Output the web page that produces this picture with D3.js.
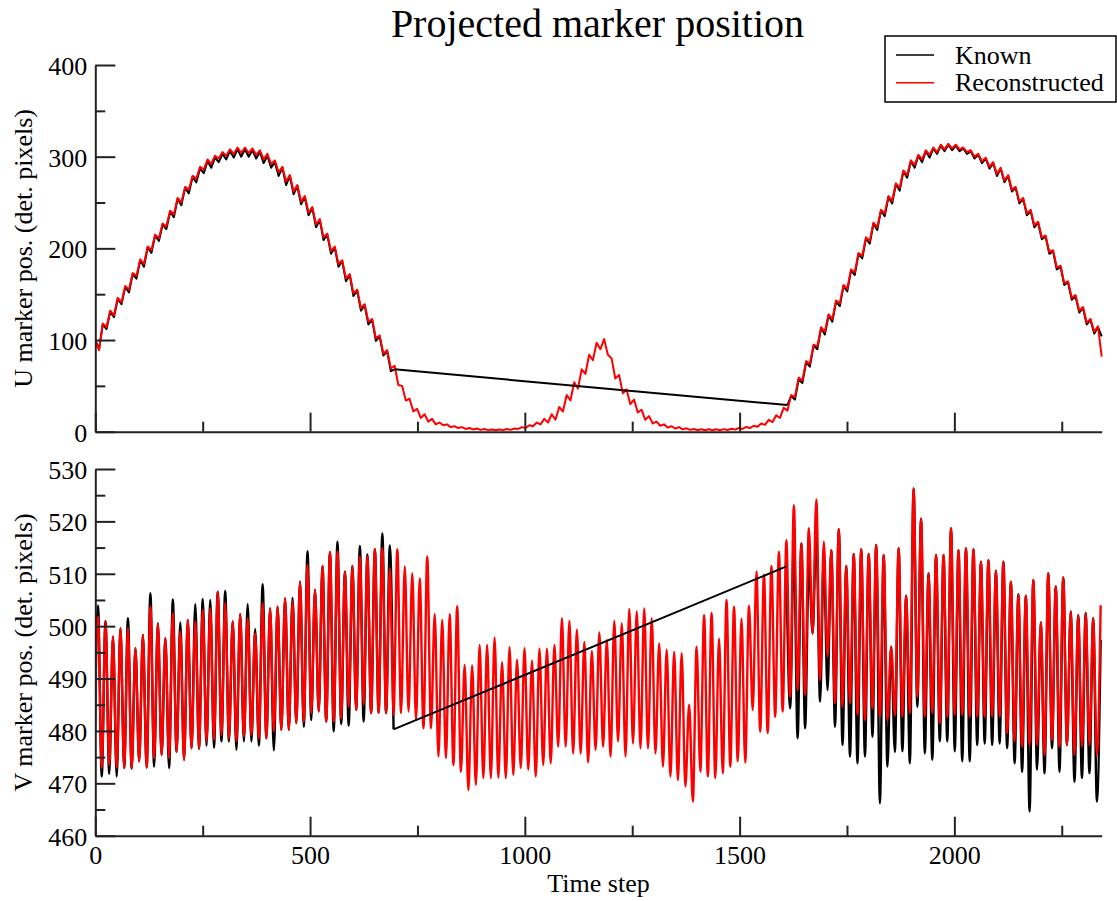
<!DOCTYPE html>
<html>
<head>
<meta charset="utf-8">
<script src="https://cdn.jsdelivr.net/npm/d3@7"></script>
<style>
  html, body { margin: 0; padding: 0; background: #fff; }
  svg { display: block; }
</style>
</head>
<body>
<svg id="chart" width="1117" height="901"></svg>
<script>
// ---------------------------------------------------------------
// Data: projected marker position per time step.
// Samples are taken at successive extrema of the fast oscillation,
// one sample every `halfPeriod` time steps.
// ---------------------------------------------------------------
const timeDomain = [0, 2343];
const halfPeriod = 8.71;
const uStart = 0;      // time step of the first U sample
const vStart = -2.41;  // time step of the first V sample
const gapResume = 185; // sample index where the known track resumes

const uTicks = [0, 100, 200, 300, 400];
const uMinorTicks = [50, 150, 250, 350];
const vTicks = [460, 470, 480, 490, 500, 510, 520, 530];
const vMinorTicks = [465, 475, 485, 495, 505, 515, 525];
const timeTicks = [0, 500, 1000, 1500, 2000];
const timeMinorTicks = [250, 750, 1250, 1750, 2250];

const seriesNames = ["Known", "Reconstructed"];

// U position, reconstructed (every sample)
const uReconstructed = [
  100, 89, 118, 114, 132, 127, 146, 141, 159, 155,
  173, 170, 188, 183, 202, 198, 215, 211, 227, 224,
  241, 237, 255, 250, 267, 264, 279, 276, 289, 286,
  297, 292, 301, 298, 305, 301, 308, 303, 310, 304,
  310, 304, 309, 302, 307, 297, 303, 292, 296, 283,
  289, 273, 280, 262, 269, 251, 257, 239, 245, 226,
  232, 212, 216, 197, 202, 183, 187, 167, 172, 151,
  155, 135, 139, 120, 123, 102, 105, 85, 89, 69,
  72, 51, 50, 34, 36, 22, 25, 15, 19, 11,
  14, 8, 10, 7, 8, 5, 6, 4, 5, 3,
  4, 2.5, 3.5, 2, 3, 1.7, 2.5, 1.6, 2.5, 1.7,
  3, 2, 3.5, 3, 5, 4, 7, 6, 10, 8,
  14, 10, 19, 13, 27, 22, 40, 34, 54, 47,
  68, 63, 84, 78, 97, 90, 101, 84, 80, 58,
  62, 42, 46, 30, 35, 21, 24, 13, 17, 9,
  11, 6.5, 8, 4.5, 6, 3.5, 5, 2.5, 3.7, 2,
  3, 1.6, 2.6, 1.5, 2.6, 1.5, 2.6, 1.6, 2.8, 1.8,
  3.2, 2.3, 4, 3, 5.2, 4, 6.5, 5.5, 9, 7.5,
  13, 10.5, 18, 15, 26, 23, 40, 38, 59, 56,
  77, 74, 95, 93, 114, 109, 128, 123, 143, 140,
  160, 156, 177, 174, 195, 192, 212, 208, 228, 223,
  242, 238, 257, 252, 271, 266, 285, 280, 296, 291,
  302, 297, 307, 302, 310, 305, 313, 308, 314, 309,
  313, 308, 310, 305, 307, 300, 303, 295, 299, 289,
  294, 281, 288, 274, 280, 264, 267, 251, 255, 238,
  242, 225, 229, 212, 214, 196, 198, 179, 181, 162,
  164, 146, 149, 132, 136, 119, 123, 109, 115, 82
];

// U position, known: before the tracking gap (samples 0..80)
const uKnownBefore = [
  100, 90, 117, 112, 131, 125, 145, 139, 158, 152,
  172, 167, 187, 180, 201, 195, 214, 208, 226, 221,
  240, 234, 254, 247, 266, 260, 278, 272, 287, 282,
  295, 288, 299, 294, 303, 297, 306, 299, 308, 300,
  308, 300, 307, 298, 305, 293, 301, 288, 294, 279,
  288, 269, 279, 259, 268, 248, 256, 236, 244, 223,
  231, 209, 215, 194, 201, 180, 186, 164, 171, 148,
  154, 132, 138, 117, 122, 99, 104, 83, 88, 66,
  68
];
// U position, known: after the tracking gap (samples 185..269)
const uKnownAfter = [
  29, 39, 35, 57, 53,
  76, 71, 94, 90, 113, 106, 127, 120, 142, 137,
  159, 153, 176, 171, 194, 189, 211, 205, 227, 220,
  241, 235, 256, 249, 270, 263, 284, 277, 295, 288,
  301, 294, 306, 299, 309, 303, 312, 306, 313, 307,
  312, 306, 309, 303, 306, 298, 302, 293, 298, 287,
  293, 279, 287, 272, 279, 262, 266, 249, 254, 236,
  241, 223, 228, 210, 213, 194, 197, 177, 180, 160,
  163, 144, 148, 130, 135, 117, 122, 107, 114, 104
];

// V position, reconstructed (every sample)
const vReconstructed = [
  474,
  501.8, 472.9, 500.9, 473.5, 498.0, 472.9, 499.6, 472.9, 499.6, 472.8,
  495.8, 474.2, 498.3, 473.0, 503.7, 474.8, 500.5, 475.4, 497.7, 474.8,
  502.5, 476.0, 499.0, 474.5, 501.2, 476.7, 500.9, 476.6, 503.1, 478.0,
  503.4, 478.3, 506.6, 479.2, 504.4, 478.6, 500.9, 478.0, 502.3, 478.9,
  501.5, 479.2, 498.6, 478.6, 504.4, 478.6, 503.4, 479.9, 503.7, 480.2,
  505.3, 480.2, 504.7, 481.5, 508.5, 481.8, 511.7, 483.4, 506.9, 483.7,
  511.5, 481.8, 514.1, 481.8, 514.2, 482.4, 510.4, 484.6, 511.5, 484.0,
  513.3, 485.0, 513.3, 483.4, 514.7, 483.5, 514.9, 483.4, 511.0, 483.1,
  514.7, 483.4, 511.4, 483.7, 510.1, 482.1, 509.1, 480.5, 513.3, 480.5,
  502.3, 475.1, 501.2, 474.8, 502.3, 473.5, 503.8, 472.2, 492.6, 468.7,
  492.5, 469.7, 496.4, 471.0, 496.4, 471.0, 497.8, 471.1, 493.1, 471.0,
  496.0, 471.6, 493.6, 472.9, 495.8, 472.6, 493.4, 471.3, 495.7, 473.5,
  495.7, 473.8, 496.4, 477.0, 501.5, 477.0, 501.0, 475.7, 499.3, 475.7,
  497.0, 474.0, 495.2, 476.4, 498.8, 477.0, 497.3, 475.1, 501.0, 478.0,
  500.5, 475.1, 503.3, 477.6, 502.8, 476.7, 503.4, 476.7, 501.5, 475.7,
  496.7, 473.2, 495.5, 471.3, 495.1, 470.6, 494.8, 469.4, 485.0, 466.5,
  496.1, 472.2, 502.1, 471.3, 502.5, 471.0, 497.6, 471.9, 505.0, 473.2,
  503.7, 474.2, 501.4, 474.0, 503.9, 484.0, 510.4, 479.9, 509.8, 479.6,
  511.5, 482.7, 514.2, 483.7, 516.4, 486.5, 523.1, 487.8, 515.8, 486.9,
  518.7, 498.6, 524.2, 489.7, 516.1, 494.2, 514.5, 485.3, 518.5, 484.6,
  511.5, 485.3, 513.8, 483.1, 514.7, 482.1, 513.8, 484.3, 515.5, 482.7,
  513.6, 482.1, 496.1, 483.0, 514.9, 482.7, 505.8, 483.4, 526.3, 486.5,
  520.5, 482.7, 510.1, 483.4, 513.6, 481.5, 513.6, 482.7, 518.7, 483.1,
  514.5, 483.1, 514.9, 482.7, 514.7, 482.7, 512.3, 482.7, 512.6, 482.7,
  510.6, 482.7, 512.3, 479.6, 508.5, 478.0, 506.1, 477.0, 505.8, 477.3,
  508.8, 477.3, 500.7, 475.4, 510.1, 478.3, 507.6, 477.0, 509.3, 477.3,
  502.8, 475.4, 502.1, 477.0, 502.5, 477.3, 501.5, 475.4,
  504.0
];

// V position, known: before the tracking gap (samples 0..80)
const vKnownBefore = [
  472,
  503.9, 471.3, 501.0, 471.8, 498.0, 471.3, 499.6, 472.9, 501.5, 472.8,
  495.8, 474.2, 498.3, 473.0, 506.3, 473.2, 500.5, 475.4, 497.7, 472.9,
  505.1, 476.0, 500.7, 474.5, 501.2, 476.7, 504.2, 476.6, 505.2, 477.2,
  505.0, 476.8, 506.6, 478.0, 506.7, 478.0, 500.9, 476.4, 502.3, 478.0,
  504.2, 478.0, 499.4, 477.2, 508.0, 478.6, 503.4, 476.3, 503.7, 480.2,
  505.3, 480.2, 505.4, 481.5, 508.5, 480.8, 514.3, 482.1, 506.9, 483.7,
  511.5, 481.8, 514.1, 479.9, 516.1, 481.3, 510.4, 481.0, 511.5, 484.0,
  515.3, 481.8, 513.7, 483.4, 514.7, 483.5, 517.7, 483.4, 515.4, 480.3
];
// V position, known: after the tracking gap (samples 185..269)
const vKnownAfter = [
  511.4, 484.3, 516.0, 478.6, 515.8, 480.5,
  512.0, 498.6, 518.0, 485.6, 513.0, 487.8, 514.5, 480.8, 518.5, 477.3,
  511.5, 475.1, 513.8, 473.8, 514.7, 475.1, 513.8, 478.9, 515.5, 466.2,
  513.6, 473.2, 496.1, 476.0, 514.9, 476.1, 505.8, 473.8, 526.3, 484.6,
  520.5, 475.7, 510.1, 474.5, 513.6, 478.0, 513.6, 478.0, 518.7, 476.1,
  514.5, 474.2, 514.9, 474.2, 514.7, 477.3, 512.3, 477.6, 512.6, 477.3,
  510.6, 477.6, 512.3, 476.7, 508.5, 473.8, 506.1, 472.2, 505.8, 464.6,
  508.8, 472.6, 500.7, 471.9, 510.1, 476.7, 507.6, 472.2, 509.3, 477.3,
  502.8, 470.3, 502.1, 471.0, 502.5, 471.9, 501.5, 466.5,
  497.4
];

// ---------------------------------------------------------------
// Layout
// ---------------------------------------------------------------
const svg = d3.select("#chart");
const FONT = "'Liberation Serif', 'Times New Roman', Times, serif";
const left = 95.3, right = 1101.7;
const panelU = { top: 65, bottom: 431.7 };
const panelV = { top: 469, bottom: 835.7 };
const RED = "#ff0000", BLACK = "#000000";

const x = d3.scaleLinear().domain(timeDomain).range([left, right]);
const yU = d3.scaleLinear().domain([0, 400]).range([panelU.bottom, panelU.top]);
const yV = d3.scaleLinear().domain([460, 530]).range([panelV.bottom, panelV.top]);

const toPoints = (values, start, firstIndex) =>
  values.map((v, i) => ({ t: start + (firstIndex + i) * halfPeriod, v }));

// clip regions so the first sample (slightly before t = 0) stays inside the frame
const defs = svg.append("defs");
[["clipU", panelU], ["clipV", panelV]].forEach(([id, p]) => {
  defs.append("clipPath").attr("id", id).append("rect")
    .attr("x", left).attr("y", p.top - 10)
    .attr("width", right - left + 4).attr("height", p.bottom - p.top + 10);
});

function drawPanel(y, clipId, rec, knownBefore, knownAfter, start, curve, width) {
  const g = svg.append("g").attr("clip-path", `url(#${clipId})`);
  const line = d3.line().x(d => x(d.t)).y(d => y(d.v)).curve(curve);
  const before = toPoints(knownBefore, start, 0);
  const after = toPoints(knownAfter, start, gapResume);
  const recPts = toPoints(rec, start, 0);

  // known track, drawn underneath
  [before, after].forEach(pts => {
    g.append("path").datum(pts).attr("d", line)
      .attr("fill", "none").attr("stroke", BLACK)
      .attr("stroke-width", width).attr("stroke-linejoin", "round");
  });
  // reconstructed track
  g.append("path").datum(recPts).attr("d", line)
    .attr("fill", "none").attr("stroke", RED)
    .attr("stroke-width", width).attr("stroke-linejoin", "round");
  // straight bridge across the frames with no known position
  const bridge = [before[before.length - 1], after[0]];
  g.append("path").datum(bridge)
    .attr("d", d3.line().x(d => x(d.t)).y(d => y(d.v)))
    .attr("fill", "none").attr("stroke", BLACK).attr("stroke-width", 2);
}

function styleAxis(sel) {
  sel.select(".domain").attr("stroke", "#222").attr("stroke-width", 2);
  sel.selectAll(".tick line").attr("stroke", "#222").attr("stroke-width", 2);
  sel.selectAll("text").attr("font-family", FONT).attr("font-size", 26).attr("fill", "#000");
}

function drawAxes(y, p, majorY, minorY, showTimeLabels) {
  const yAxis = svg.append("g").attr("transform", `translate(${left},0)`)
    .call(d3.axisLeft(y).tickValues(majorY).tickSize(-20).tickSizeOuter(0)
      .tickPadding(8).tickFormat(d3.format("d")));
  yAxis.selectAll("text").attr("dy", "0.36em");
  styleAxis(yAxis);
  const yMinor = svg.append("g").attr("transform", `translate(${left},0)`)
    .call(d3.axisLeft(y).tickValues(minorY).tickSize(-10).tickFormat(""));
  yMinor.select(".domain").remove();
  styleAxis(yMinor);

  const xAxis = svg.append("g").attr("transform", `translate(0,${p.bottom})`)
    .call(d3.axisBottom(x).tickValues(timeTicks).tickSize(-19).tickSizeOuter(0)
      .tickPadding(10).tickFormat(showTimeLabels ? d3.format("d") : ""));
  styleAxis(xAxis);
  const xMinor = svg.append("g").attr("transform", `translate(0,${p.bottom})`)
    .call(d3.axisBottom(x).tickValues(timeMinorTicks).tickSize(-10).tickFormat(""));
  xMinor.select(".domain").remove();
  styleAxis(xMinor);
}

drawPanel(yU, "clipU", uReconstructed, uKnownBefore, uKnownAfter, uStart, d3.curveLinear, 2);
drawPanel(yV, "clipV", vReconstructed, vKnownBefore, vKnownAfter, vStart, d3.curveMonotoneX, 2.4);

drawAxes(yU, panelU, uTicks, uMinorTicks, false);
drawAxes(yV, panelV, vTicks, vMinorTicks, true);

// titles
svg.append("text").attr("x", 597.5).attr("y", 37).attr("text-anchor", "middle")
  .attr("font-family", FONT).attr("font-size", 40).text("Projected marker position");
svg.append("text").attr("transform", `translate(32,${(panelU.top + panelU.bottom) / 2}) rotate(-90)`)
  .attr("text-anchor", "middle").attr("font-family", FONT).attr("font-size", 26)
  .text("U marker pos. (det. pixels)");
svg.append("text").attr("transform", `translate(32,${(panelV.top + panelV.bottom) / 2}) rotate(-90)`)
  .attr("text-anchor", "middle").attr("font-family", FONT).attr("font-size", 26)
  .text("V marker pos. (det. pixels)");
svg.append("text").attr("x", (left + right) / 2).attr("y", 892).attr("text-anchor", "middle")
  .attr("font-family", FONT).attr("font-size", 26).text("Time step");

// legend
const legend = svg.append("g");
legend.append("rect").attr("x", 885).attr("y", 36).attr("width", 231).attr("height", 66)
  .attr("fill", "#fff").attr("stroke", "#000").attr("stroke-width", 1.5);
const legendRows = [
  { name: seriesNames[0], color: BLACK, y: 55 },
  { name: seriesNames[1], color: RED, y: 82.7 }
];
legendRows.forEach(r => {
  legend.append("line").attr("x1", 896).attr("x2", 934).attr("y1", r.y).attr("y2", r.y)
    .attr("stroke", r.color).attr("stroke-width", 1.5);
  legend.append("text").attr("x", 955).attr("y", r.y + 8.7)
    .attr("font-family", FONT).attr("font-size", 26).text(r.name);
});
</script>
</body>
</html>
